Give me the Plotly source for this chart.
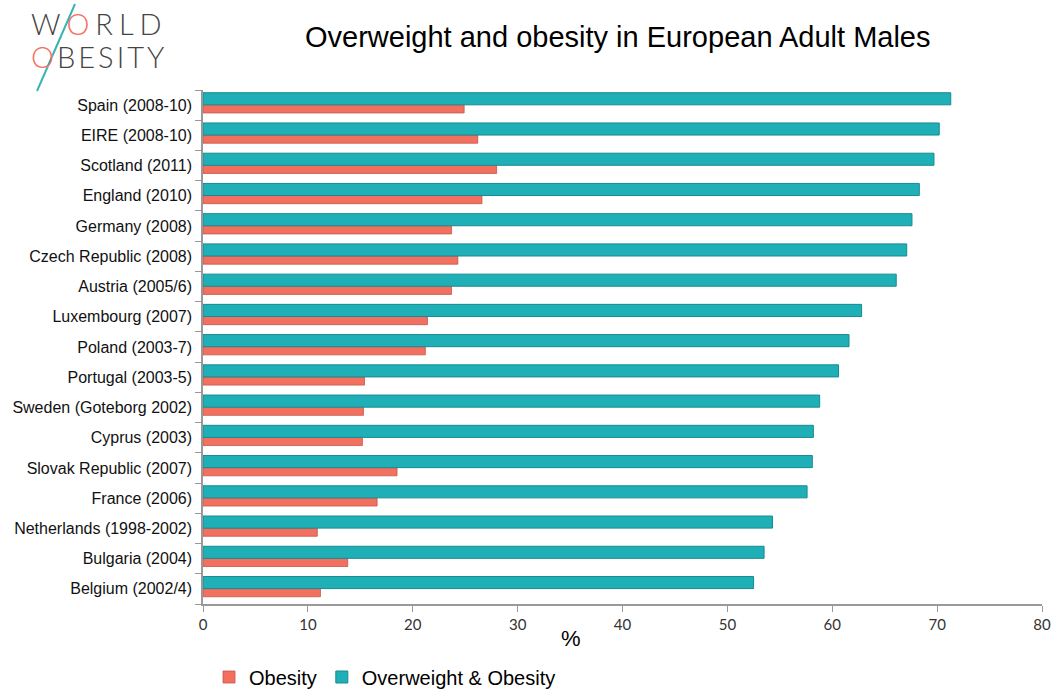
import plotly.graph_objects as go

# Countries listed bottom-to-top as drawn on the chart
countries = [
    "Belgium (2002/4)", "Bulgaria (2004)", "Netherlands (1998-2002)", "France (2006)",
    "Slovak Republic (2007)", "Cyprus (2003)", "Sweden (Goteborg 2002)", "Portugal (2003-5)",
    "Poland (2003-7)", "Luxembourg (2007)", "Austria (2005/6)", "Czech Republic (2008)",
    "Germany (2008)", "England (2010)", "Scotland (2011)", "EIRE (2008-10)", "Spain (2008-10)",
]
obesity = [11.2, 13.8, 10.9, 16.6, 18.5, 15.2, 15.3, 15.4, 21.2, 21.4, 23.7, 24.3, 23.7, 26.6, 28.0, 26.2, 24.9]
overweight_obesity = [52.5, 53.5, 54.3, 57.6, 58.1, 58.2, 58.8, 60.6, 61.6, 62.8, 66.1, 67.1, 67.6, 68.3, 69.7, 70.2, 71.3]
x_ticks = [0, 10, 20, 30, 40, 50, 60, 70, 80]

CORAL = "#F2705F"
TEAL = "#1FB0B7"

W, H = 1053, 689
# plot area in pixels: x 203..1042, y 90..604
PX_L, PX_R, PX_T, PX_B = 203, 1042, 90, 604


def px(x):
    return (x - PX_L) / (PX_R - PX_L)


def py(y):
    return (PX_B - y) / (PX_B - PX_T)


fig = go.Figure()
fig.add_trace(go.Bar(
    name="Obesity", y=countries, x=obesity, orientation="h",
    marker=dict(color=CORAL, line=dict(color="#c65648", width=0.8)),
    offset=-0.26, width=0.27,
))
fig.add_trace(go.Bar(
    name="Overweight & Obesity", y=countries, x=overweight_obesity, orientation="h",
    marker=dict(color=TEAL, line=dict(color="#168b91", width=1)),
    offset=0.01, width=0.40,
))

# Logo: WORLD / OBESITY wordmark with coral O's and a teal slash
logo_font = dict(family="Lato", size=29, color="#444444", weight=300)
fig.add_annotation(
    text=("<span style='letter-spacing:6px'>W<span style='color:#F2705F'>O</span>RLD</span>"),
    xref="paper", yref="paper",
    x=px(29), y=py(23), xanchor="left", yanchor="middle",
    showarrow=False, font=logo_font,
)
fig.add_annotation(
    text=("<span style='letter-spacing:3px'><span style='color:#F2705F'>O</span>BESITY</span>"),
    xref="paper", yref="paper",
    x=px(29), y=py(56), xanchor="left", yanchor="middle",
    showarrow=False, font=logo_font,
)
fig.add_shape(
    type="line", xref="paper", yref="paper",
    x0=px(37), y0=py(91), x1=px(75), y1=py(4),
    line=dict(color="#3BB3B5", width=2),
)

fig.add_annotation(
    text="Overweight and obesity in European Adult Males", xref="paper", yref="paper",
    x=px(617), y=py(37), xanchor="center", yanchor="middle",
    showarrow=False, font=dict(family="Liberation Sans, Arial", size=29, color="#000000"),
)

# x-axis unit label
fig.add_annotation(
    text="%", xref="paper", yref="paper", x=px(571), y=py(638),
    xanchor="center", yanchor="middle", showarrow=False,
    font=dict(family="Liberation Sans, Arial", size=22, color="#000000"),
)

fig.update_layout(
    width=W, height=H,
    margin=dict(l=PX_L, r=W - PX_R, t=PX_T, b=H - PX_B),
    paper_bgcolor="white", plot_bgcolor="white",
    barmode="overlay",
    font=dict(family="Liberation Sans, Arial", color="#000000"),
    showlegend=True,
    legend=dict(
        orientation="h", xref="container", yref="container",
        x=209 / W, y=(H - 677) / H, xanchor="left", yanchor="middle",
        font=dict(size=20, color="#000000"), itemwidth=30, traceorder="normal",
        bgcolor="rgba(0,0,0,0)",
    ),
    xaxis=dict(
        range=[0, 80], tickvals=x_ticks, ticks="outside", ticklen=6, tickcolor="#999999",
        showline=True, linecolor="#999999", linewidth=1.5, showgrid=False, zeroline=False,
        tickfont=dict(family="Lato", size=15, color="#333333"),
        automargin=False, fixedrange=True,
    ),
    yaxis=dict(
        type="category", categoryorder="array", categoryarray=countries,
        ticks="outside", ticklen=6, tickcolor="#999999", tickson="boundaries",
        showline=True, linecolor="#999999", linewidth=1.5, showgrid=False,
        tickfont=dict(family="Liberation Sans, Arial", size=16, color="#111111"),
        ticklabelstandoff=6, range=[-0.5, 16.5], automargin=False,
    ),
)

fig.write_html("out.html")
